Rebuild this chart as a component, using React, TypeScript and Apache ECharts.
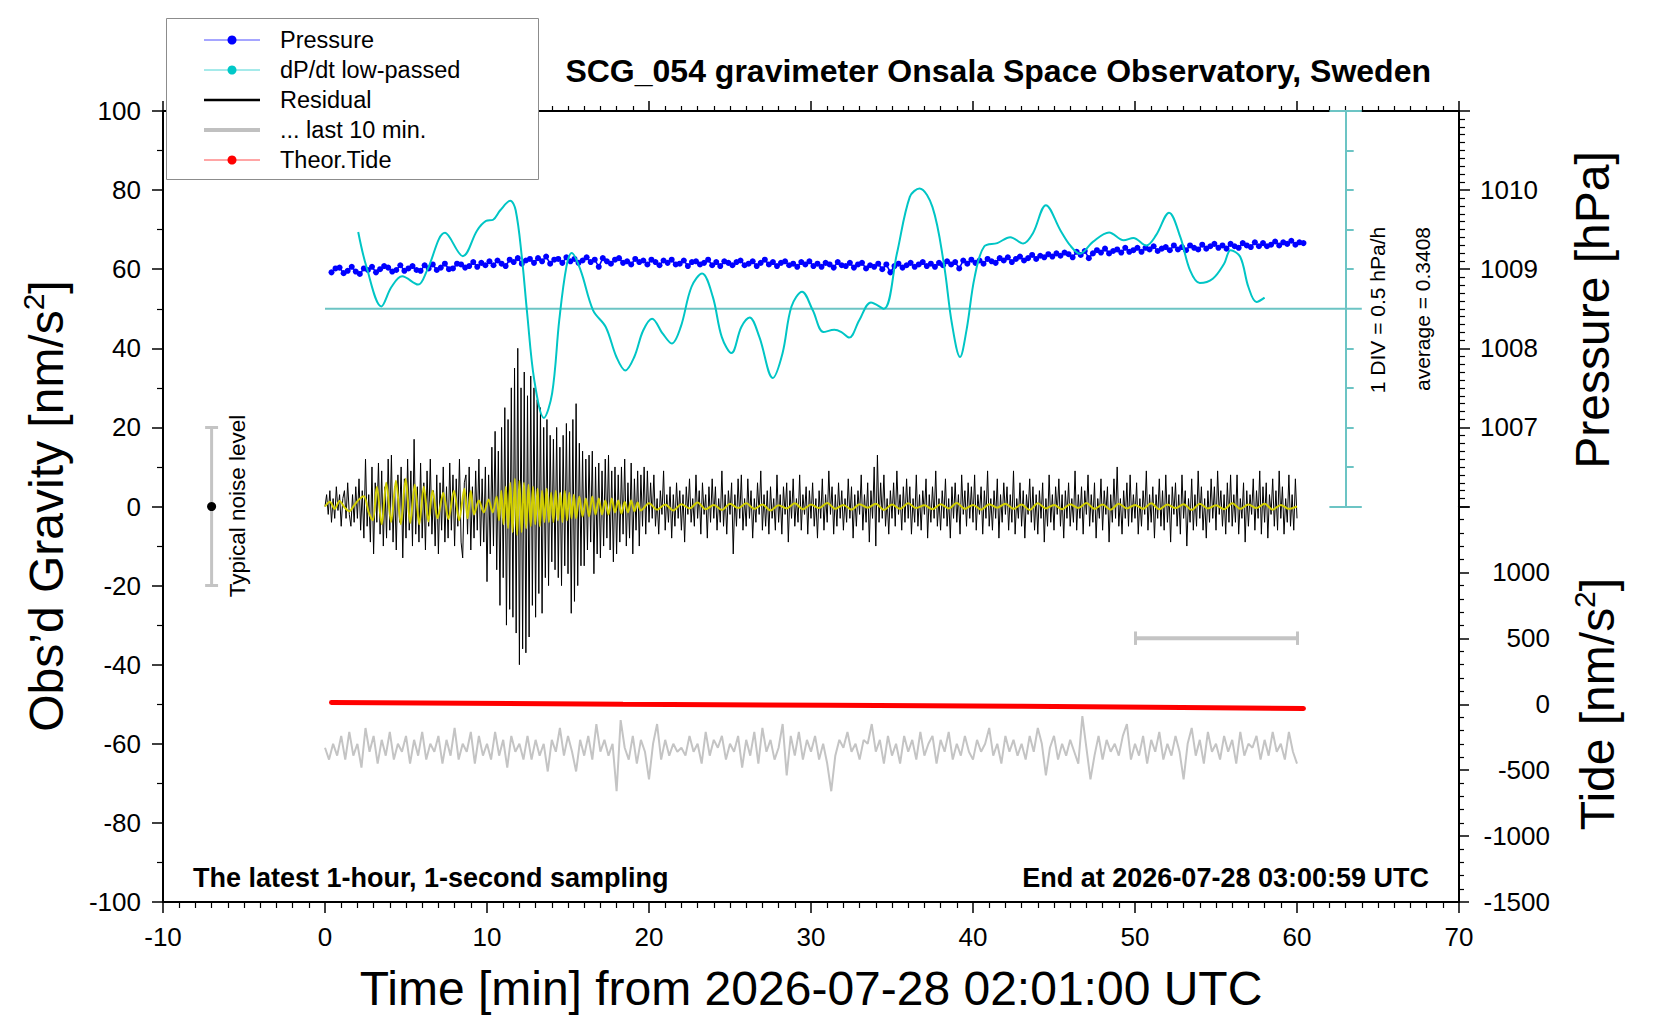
import { useEffect, useRef } from 'react';
import * as echarts from 'echarts';

const FONT = "'Liberation Sans', Arial, Helvetica, sans-serif";

// residual gravity [nm/s^2], one value every 0.1 min from 0 to 60 min
const RESIDUAL_STEP = 0.1;
const residual = [
  0, 3, -2, 4, -4, 2, -3, 5, -1, 3, -5, 2, 4, -3, 6, -2, -5, 3, -4, 5,
  -3, 7, -6, 4, -8, 12, -5, 3, -9, 10, -12, 6, -4, 11, -7, 9, -10, 5, -8, 12,
  -6, 13, -9, 5, -11, 8, -4, 10, -13, 7, -8, 12, -6, 9, -10, 17, -7, 5, -9, 11,
  -8, 6, -11, 9, -5, 12, -7, 4, -10, 8, -12, 6, -6, 10, -9, 5, -8, 11, -6, 8,
  -10, 7, -5, 12, -9, -13, 6, 8, -7, 10, -11, 5, -8, 9, -6, 12, -10, 7, -9, 10,
  -19, 8, -12, 15, -10, 19, -16, 14, -25, 20, -18, 25, -30, 22, -26, 30, -28, 35, -32, 40,
  -40, 30, -36, 34, -37, 28, -33, 33, -25, 30, -28, 27, -22, 25, -27, 20, -18, 22, -20, 18,
  -14, 17, -16, 20, -18, 15, -20, 18, -15, 21, -17, 19, -27, 22, -24, 26, -20, 16, -15, 14,
  -15, 12, -11, 13, -9, 14, -17, 10, -12, 11, -13, 9, -10, 12, -8, 13, -11, 9, -14, 10,
  -12, 8, -9, 10, -7, 12, -10, 6, -8, 11, -12, 7, -6, 9, -10, 8, -5, 10, -7, 9,
  -4, 6, -3, 8, -5, 2, -7, 4, -2, 9, -6, 3, -4, 5, -8, 3, -5, 6, -3, 4,
  -6, 3, -9, 5, -2, 7, -4, 2, -5, 8, -3, 4, -7, 6, -2, 3, -8, 5, -4, 7,
  -3, 5, -6, 2, -4, 9, -5, 3, -7, 4, -2, 6, -12, 3, -5, 7, -3, 8, -6, 2,
  -5, 7, -3, 4, -8, 2, -4, 6, -2, 9, -6, 3, -5, 4, -7, 5, -3, 2, -6, 8,
  -4, 3, -7, 5, -2, 6, -9, 4, -3, 7, -5, 2, -4, 8, -6, 3, -2, 5, -7, 4,
  -3, 6, -5, 2, -8, 4, -3, 7, -6, 3, -4, 9, -2, 5, -7, 3, -5, 6, -3, 4,
  -6, 2, -4, 7, -3, 5, -8, 3, -5, 4, -2, 8, -6, 3, -4, 6, -9, 4, -3, 10,
  -10, 13, -4, 6, -3, 8, -5, 2, -7, 4, -3, 6, -5, 9, -2, 3, -6, 5, -4, 7,
  -3, 5, -7, 2, -4, 8, -5, 3, -6, 4, -2, 7, -8, 3, -4, 5, -3, 9, -5, 2,
  -6, 4, -3, 7, -5, 2, -8, 5, -3, 6, -4, 3, -7, 8, -2, 4, -5, 6, -3, 5,
  -4, 8, -6, 3, -2, 5, -7, 4, -3, 9, -5, 2, -6, 4, -3, 7, -8, 3, -4, 6,
  -2, 5, -6, 3, -4, 9, -7, 2, -3, 6, -5, 4, -8, 3, -2, 7, -4, 5, -6, 3,
  -7, 4, -3, 6, -9, 2, -5, 8, -4, 3, -6, 5, -2, 7, -5, 3, -8, 4, -3, 6,
  -5, 2, -4, 9, -6, 3, -3, 5, -7, 4, -2, 8, -5, 3, -4, 6, -8, 2, -3, 7,
  -6, 4, -2, 5, -9, 3, -4, 7, -3, 10, -5, 2, -7, 4, -3, 6, -5, 8, -4, 3,
  -3, 6, -7, 2, -5, 4, -2, 9, -6, 3, -4, 5, -8, 3, -3, 7, -5, 4, -6, 8,
  -4, 3, -9, 5, -2, 6, -5, 3, -7, 8, -3, 4, -10, 2, -4, 7, -6, 3, -5, 9,
  -3, 5, -6, 2, -8, 4, -4, 7, -3, 5, -6, 9, -2, 4, -5, 3, -7, 6, -4, 8,
  -5, 3, -4, 8, -7, 2, -3, 6, -9, 4, -5, 3, -2, 7, -6, 4, -3, 9, -7, 5,
  -4, 6, -8, 3, -2, 7, -5, 4, -6, 9, -3, 5, -7, 2, -4, 8, -5, 3, -6, 7,
  -3,
];

// low-passed residual (yellow), [min, nm/s^2]
const smoothed: [number, number][] = [
  [0, 0], [0.3, 1.2], [0.6, -0.6], [0.9, 1.4], [1.2, -0.2], [1.5, -1.2], [1.8, 0.3], [2.1, 1.8],
  [2.4, 2.6], [2.7, -1.5], [2.95, -3.5], [3.2, 5], [3.5, -4.5], [3.78, 6], [4.08, -4], [4.38, 6.5],
  [4.68, -4.5], [4.98, 7], [5.26, -4.2], [5.54, 5.5], [5.82, -4.5], [6.1, 5], [6.38, -3.8], [6.64, 4],
  [6.95, -3], [7.3, 3.5], [7.62, -3.2], [7.96, 4], [8.28, -3.5], [8.6, 4.5], [8.8, -3], [9.0, 4],
  [9.2, -2], [9.5, 1.5], [9.8, -1.5], [10.1, 1.8], [10.35, -1.5], [10.6, 2.5], [10.74, -3.5], [10.88, 4],
  [11.02, -4.5], [11.16, 5], [11.3, -5.5], [11.44, 6], [11.58, -6.5], [11.72, 7], [11.86, -7.2], [12.0, 6.5],
  [12.14, -6.5], [12.28, 6], [12.42, -5.5], [12.56, 5.5], [12.7, -5], [12.84, 5], [12.98, -4.5], [13.12, 4.5],
  [13.26, -5], [13.4, 4], [13.54, -4], [13.68, 4.5], [13.82, -4], [13.96, 3.5], [14.1, -4], [14.24, 4],
  [14.38, -3.5], [14.52, 3.5], [14.66, -4], [14.8, 4], [14.94, -3.5], [15.08, 3.5], [15.22, -3], [15.36, 3],
  [15.5, -3], [15.7, 2.5], [15.9, -2.5], [16.1, 2], [16.3, -2.5], [16.5, 2.5], [16.7, -2], [16.9, 2],
  [17.1, -2], [17.3, 1.5], [17.5, -2], [17.7, 2], [17.9, -1.5], [18.1, 1.5], [18.3, -1.8], [18.5, 1.2],
  [18.7, -1.5], [18.9, 1.5], [19.1, -1.2], [19.3, 1], [19.5, -1], [20, 0.8], [20.5, -0.8], [21, 0.5],
  [21.5, -1], [22, 0.6], [22.5, -0.5], [23, 1], [23.5, -0.7], [24, 0.4], [24.5, -0.9], [25, 0.7],
  [25.5, -0.4], [26, 0.8], [26.5, -0.6], [27, 0.5], [27.5, -1], [28, 0.3], [28.5, -0.5], [29, 0.8],
  [29.5, -0.7], [30, 0.5], [30.5, -0.4], [31, 0.9], [31.5, -0.6], [32, 0.4], [32.5, -0.8], [33, 0.6],
  [33.5, -0.3], [34, 0.7], [34.5, -0.9], [35, 0.5], [35.5, -0.6], [36, 0.8], [36.5, -0.4], [37, 0.3],
  [37.5, -0.7], [38, 0.6], [38.5, -0.5], [39, 0.9], [39.5, -0.6], [40, 0.4], [40.5, -0.8], [41, 0.6],
  [41.5, -0.3], [42, 0.7], [42.5, -0.6], [43, 0.5], [43.5, -0.9], [44, 0.8], [44.5, -0.5], [45, 0.4],
  [45.5, -0.7], [46, 0.6], [46.5, -0.4], [47, 0.9], [47.5, -0.6], [48, 0.5], [48.5, -0.8], [49, 0.7],
  [49.5, -0.5], [50, 0.4], [50.5, -0.6], [51, 0.8], [51.5, -0.7], [52, 0.5], [52.5, -0.4], [53, 0.6],
  [53.5, -0.9], [54, 0.7], [54.5, -0.5], [55, 0.3], [55.5, -0.7], [56, 0.8], [56.5, -0.6], [57, 0.5],
  [57.5, -0.4], [58, 0.7], [58.5, -0.8], [59, 0.4], [59.5, -0.6], [60, 0],
];

// air pressure [hPa], one value every 0.25 min from 0.4 min
const PRESSURE_START = 0.4;
const PRESSURE_STEP = 0.25;
const pressure = [
  1008.96, 1009.01, 1009.02, 1008.95, 1008.98, 1009.03, 1008.97, 1008.94, 1009.01, 1008.99,
  1009.03, 1008.96, 1009.00, 1009.04, 1009.02, 1008.97, 1008.99, 1009.05, 1008.98, 1009.01,
  1009.04, 1008.99, 1008.98, 1009.05, 1009.01, 1009.06, 1008.99, 1009.02, 1009.07, 1009.00,
  1009.01, 1009.07, 1009.06, 1009.02, 1009.04, 1009.09, 1009.03, 1009.08, 1009.05, 1009.10,
  1009.05, 1009.11, 1009.07, 1009.04, 1009.12, 1009.09, 1009.14, 1009.07, 1009.11, 1009.13,
  1009.08, 1009.14, 1009.10, 1009.16, 1009.07, 1009.12, 1009.13, 1009.08, 1009.15, 1009.10,
  1009.13, 1009.08, 1009.11, 1009.15, 1009.09, 1009.12, 1009.03, 1009.14, 1009.10, 1009.07,
  1009.12, 1009.14, 1009.08, 1009.10, 1009.06, 1009.13, 1009.09, 1009.11, 1009.06, 1009.12,
  1009.09, 1009.05, 1009.11, 1009.08, 1009.12, 1009.06, 1009.07, 1009.11, 1009.04, 1009.09,
  1009.10, 1009.06, 1009.08, 1009.12, 1009.05, 1009.09, 1009.04, 1009.10, 1009.08, 1009.05,
  1009.09, 1009.11, 1009.05, 1009.07, 1009.10, 1009.04, 1009.08, 1009.12, 1009.06, 1009.09,
  1009.04, 1009.08, 1009.10, 1009.05, 1009.07, 1009.03, 1009.09, 1009.06, 1009.10, 1009.04,
  1009.07, 1009.03, 1009.08, 1009.06, 1009.02, 1009.09, 1009.05, 1009.04, 1009.08, 1009.02,
  1009.06, 1009.08, 1009.01, 1009.05, 1009.03, 1009.07, 1009.00, 1009.06, 1008.96, 1009.04,
  1009.07, 1009.02, 1009.05, 1009.08, 1009.03, 1009.06, 1009.09, 1009.04, 1009.07, 1009.03,
  1009.08, 1009.05, 1009.10, 1009.06, 1009.09, 1009.01, 1009.11, 1009.07, 1009.12, 1009.08,
  1009.11, 1009.07, 1009.13, 1009.10, 1009.08, 1009.14, 1009.11, 1009.15, 1009.09, 1009.13,
  1009.16, 1009.11, 1009.14, 1009.18, 1009.13, 1009.17, 1009.15, 1009.19, 1009.16, 1009.20,
  1009.17, 1009.21, 1009.19, 1009.15, 1009.22, 1009.18, 1009.23, 1009.14, 1009.20, 1009.24,
  1009.21, 1009.26, 1009.20, 1009.23, 1009.25, 1009.21, 1009.27, 1009.22, 1009.24, 1009.27,
  1009.22, 1009.27, 1009.25, 1009.29, 1009.23, 1009.26, 1009.28, 1009.24, 1009.30, 1009.25,
  1009.28, 1009.24, 1009.30, 1009.27, 1009.25, 1009.31, 1009.26, 1009.29, 1009.32, 1009.27,
  1009.30, 1009.26, 1009.32, 1009.29, 1009.27, 1009.33, 1009.30, 1009.28, 1009.34, 1009.29,
  1009.33, 1009.29, 1009.31, 1009.35, 1009.30, 1009.34, 1009.32, 1009.36, 1009.31, 1009.34,
  1009.33,
];

// dP/dt low-passed, drawn in gravity-axis units (1 DIV = 10 units = 0.5 hPa/h, baseline at 50)
const dpdtTimes = [
  2.05, 2.56, 3.48, 4.1, 4.76, 5.75, 6.3, 7.41, 8.51, 9.39, 9.94, 10.38, 10.82, 11.44, 11.77,
  12.15, 12.48, 12.92, 13.51, 14.02, 14.46, 14.9, 15.23, 15.78, 16.55, 17.33, 17.99, 18.54,
  19.09, 19.64, 20.19, 20.85, 21.41, 21.96, 22.62, 23.28, 23.94, 24.49, 25.09, 25.7, 26.21,
  26.81, 27.64, 28.24, 28.79, 29.45, 30.11, 30.77, 31.44, 31.88, 32.36, 32.98, 33.7, 34.5,
  35.3, 36.1, 36.7, 37.5, 38.2, 38.7, 39.2, 39.6, 40.1, 40.7, 41.5, 42.3, 43.1, 43.7, 44.5,
  45.4, 46.0, 46.6, 47.4, 48.4, 49.3, 49.9, 50.7, 51.3, 52.1, 52.8, 53.4, 54.0, 54.8, 55.5,
  55.9, 56.5, 57.0, 57.5, 58.0,
];
const dpdtValues = [
  69.4, 60.6, 50.6, 55.5, 58.2, 56.1, 59.7, 69.2, 63.3, 69.8, 72.2, 72.5, 74.9, 77.3, 74.9,
  63.1, 48.8, 31.9, 22.4, 28.6, 47.1, 60.6, 64.1, 59.7, 49.6, 45.4, 37.8, 34.4,
  37.8, 44.5, 47.5, 43.7, 41.2, 45.4, 55.5, 58.9, 53, 42.9, 38.8, 45.4, 47.8,
  42.9, 32.5, 38.7, 50.5, 54.3, 49.6, 44.1, 44.7, 44.1, 42.7, 47.1, 51.6, 50.0,
  63.9, 78.3, 80.4, 75.7, 61.4, 46.2, 37.8, 44.6, 58, 65.8, 66.6, 68.1, 66.5, 69.1, 76.2,
  69.8, 66, 63.9, 66.9, 69.3, 67.3, 67.9, 66, 68.6, 74.3, 68.1, 59.7, 56.5, 57.6, 61.4,
  64.8, 63.1, 55.5, 51.7, 52.8,
];

// last 10 min of residual, stretched over the 60-min width, every 0.25 min (plot units)
const LAST_TEN_STEP = 0.25;
const lastTen = [
  -61, -64, -60, -63, -58, -64, -57, -63, -60, -66,
  -56, -62, -58, -65, -59, -63, -57, -64, -60, -62,
  -58, -65, -59, -63, -57, -64, -60, -62, -58, -65,
  -59, -63, -56, -64, -60, -62, -57, -65, -58, -63,
  -60, -64, -57, -63, -59, -66, -58, -62, -60, -64,
  -58, -64, -59, -63, -60, -67, -59, -62, -56, -63,
  -58, -62, -67, -59, -63, -58, -64, -55, -62, -59,
  -63, -60, -72, -54, -61, -64, -58, -65, -59, -62,
  -69, -60, -55, -64, -59, -63, -60, -62, -61, -63,
  -58, -62, -60, -65, -57, -63, -59, -61, -58, -64,
  -60, -62, -58, -66, -59, -63, -57, -65, -56, -62,
  -59, -64, -61, -55, -68, -58, -63, -57, -64, -59,
  -62, -58, -64, -60, -65, -72, -63, -59, -61, -57,
  -62, -60, -64, -59, -60, -55, -62, -59, -65, -58,
  -63, -60, -65, -58, -62, -59, -64, -57, -63, -60,
  -58, -65, -59, -62, -57, -64, -60, -63, -58, -62,
  -64, -59, -62, -60, -56, -63, -60, -65, -58, -62,
  -59, -63, -60, -64, -58, -62, -56, -60, -68, -61,
  -58, -64, -60, -63, -59, -62, -65, -53, -61, -69,
  -63, -58, -64, -59, -62, -60, -63, -58, -55, -64,
  -60, -63, -58, -65, -59, -62, -57, -64, -60, -63,
  -58, -62, -69, -60, -56, -63, -59, -65, -57, -62,
  -60, -64, -58, -62, -59, -65, -57, -63, -60, -61,
  -58, -64, -59, -63, -57, -62, -60, -64, -57, -62,
  -65,
];

// theoretical tide [nm/s^2]
const tideTimes = [0.4, 18.4, 31.2, 43, 51, 60.4];
const tideValues = [13, 0, -8, -15, -23, -32];

const NOISE_X = -7;
const NOISE_LEVEL = 20;
const LAST_TEN_BAR = { from: 50, to: 60, level: -33.3 };
const DPDT_SCALE_X = 63;
const DPDT_BASE = 50;

const legendItems = [
  { name: 'Pressure', color: '#0000ff', line: '#4d4dff', width: 1, dot: true },
  { name: 'dP/dt low-passed', color: '#00c8c8', line: '#4dd5d5', width: 1, dot: true },
  { name: 'Residual', color: '#000000', line: '#000000', width: 2.5, dot: false },
  { name: '... last 10 min.', color: '#c0c0c0', line: '#c0c0c0', width: 4, dot: false },
  { name: 'Theor.Tide', color: '#ff0000', line: '#ff4d4d', width: 1, dot: true },
];

const GRID_LEFT = 163;
const GRID_TOP = 111;
const GRID_W = 1296;
const GRID_H = 791;

const seg = (x1: number, y1: number, x2: number, y2: number) => [
  { coord: [x1, y1] },
  { coord: [x2, y2] },
];

export default function App() {
  const chartRef = useRef<HTMLDivElement>(null);

  useEffect(() => {
    if (!chartRef.current) return;
    const chart = echarts.init(chartRef.current, undefined, { renderer: 'svg' });

    const axisLine = { show: true, onZero: false, lineStyle: { color: '#000', width: 2 } };
    const axisTick = (len: number) => ({ show: true, length: len, lineStyle: { color: '#000', width: 1.5 } });
    const minorTick = (n: number, len: number) => ({
      show: true,
      splitNumber: n,
      length: len,
      lineStyle: { color: '#000', width: 1.2 },
    });
    const tickLabel = { color: '#000', fontSize: 26, fontFamily: FONT };

    const halfH = GRID_H / 2;

    // cyan dP/dt scale: ticks every division, long ends at 0 and 100
    const dpdtTicks: any[] = [];
    for (let g = 10; g < 100; g += 10) {
      if (g !== DPDT_BASE) dpdtTicks.push(seg(DPDT_SCALE_X, g, DPDT_SCALE_X + 0.5, g));
    }
    dpdtTicks.push(seg(DPDT_SCALE_X - 1, 0, DPDT_SCALE_X + 1, 0));
    dpdtTicks.push(seg(DPDT_SCALE_X - 1, 100, DPDT_SCALE_X + 1, 100));
    dpdtTicks.push(seg(DPDT_SCALE_X, 0, DPDT_SCALE_X, 100));

    const markStyle = (color: string, width: number) => ({
      silent: true,
      symbol: ['none', 'none'],
      label: { show: false },
      emphasis: { disabled: true },
      lineStyle: { color, width, type: 'solid' as const },
    });

    const titleRich = (text: string) => ({
      text,
      rich: {
        a: { fontSize: 48, fontFamily: FONT, fill: '#000', lineHeight: 56 },
        s: { fontSize: 30, fontFamily: FONT, fill: '#000', lineHeight: 30, verticalAlign: 'top' },
      },
      fill: '#000',
      align: 'center',
      verticalAlign: 'middle',
      textAlign: 'center',
      textVerticalAlign: 'middle',
    });

    const plainText = (text: string, size: number, align: string, weight: string = 'normal') => ({
      text,
      fontSize: size,
      fontFamily: FONT,
      fontWeight: weight,
      fill: '#000',
      align,
      verticalAlign: 'middle',
      textAlign: align,
      textVerticalAlign: 'middle',
    });

    const legendGraphics: any[] = [
      {
        type: 'rect',
        shape: { x: 166.5, y: 18.5, width: 372, height: 161 },
        style: { fill: '#fff', stroke: '#8c8c8c', lineWidth: 1 },
        z: 100,
      },
    ];
    legendItems.forEach((item, i) => {
      const y = 40 + i * 30;
      legendGraphics.push({
        type: 'line',
        shape: { x1: 204, y1: y, x2: 260, y2: y },
        style: { stroke: item.line, lineWidth: item.width },
        z: 101,
      });
      if (item.dot) {
        legendGraphics.push({
          type: 'circle',
          shape: { cx: 232, cy: y, r: 4.5 },
          style: { fill: item.color },
          z: 102,
        });
      }
      legendGraphics.push({
        type: 'text',
        x: 280,
        y,
        style: plainText(item.name, 23.5, 'left'),
        z: 102,
      });
    });

    const option: any = {
      animation: false,
      backgroundColor: '#fff',
      grid: [
        { left: GRID_LEFT, top: GRID_TOP, width: GRID_W, height: GRID_H },
        { left: GRID_LEFT, top: GRID_TOP, width: GRID_W, height: halfH },
        { left: GRID_LEFT, top: GRID_TOP + halfH, width: GRID_W, height: halfH },
      ],
      xAxis: [
        {
          type: 'value',
          gridIndex: 0,
          position: 'bottom',
          min: -10,
          max: 70,
          interval: 10,
          axisLine,
          axisTick: axisTick(11),
          minorTick: minorTick(10, 6),
          axisLabel: { ...tickLabel, margin: 22 },
          splitLine: { show: false },
        },
        {
          type: 'value',
          gridIndex: 0,
          position: 'top',
          min: -10,
          max: 70,
          interval: 10,
          axisLine,
          axisTick: axisTick(10),
          minorTick: minorTick(10, 5),
          axisLabel: { show: false },
          splitLine: { show: false },
        },
        { type: 'value', gridIndex: 1, min: -10, max: 70, show: false, splitLine: { show: false } },
        { type: 'value', gridIndex: 2, min: -10, max: 70, show: false, splitLine: { show: false } },
      ],
      yAxis: [
        {
          type: 'value',
          gridIndex: 0,
          position: 'left',
          min: -100,
          max: 100,
          interval: 20,
          axisLine,
          axisTick: axisTick(11),
          minorTick: minorTick(2, 6),
          axisLabel: { ...tickLabel, margin: 22 },
          splitLine: { show: false },
        },
        {
          type: 'value',
          gridIndex: 1,
          position: 'right',
          min: 1006,
          max: 1011,
          interval: 1,
          axisLine,
          axisTick: axisTick(11),
          minorTick: minorTick(10, 6),
          axisLabel: {
            ...tickLabel,
            margin: 21,
            formatter: (v: number) => (v >= 1007 && v <= 1010 ? String(v) : ''),
          },
          splitLine: { show: false },
        },
        {
          type: 'value',
          gridIndex: 2,
          position: 'right',
          min: -1500,
          max: 1500,
          interval: 500,
          axisLine,
          axisTick: axisTick(10),
          minorTick: minorTick(5, 5),
          axisLabel: {
            ...tickLabel,
            margin: 91,
            align: 'right',
            formatter: (v: number) => (v <= 1000 ? String(v) : ''),
          },
          splitLine: { show: false },
        },
      ],
      series: [
        {
          name: 'noise level',
          type: 'line',
          xAxisIndex: 0,
          yAxisIndex: 0,
          data: [[NOISE_X, -NOISE_LEVEL], [NOISE_X, NOISE_LEVEL]],
          symbol: 'none',
          silent: true,
          lineStyle: { color: '#c4c4c4', width: 3 },
          markLine: {
            ...markStyle('#c4c4c4', 3),
            data: [
              seg(NOISE_X - 0.4, NOISE_LEVEL, NOISE_X + 0.4, NOISE_LEVEL),
              seg(NOISE_X - 0.4, -NOISE_LEVEL, NOISE_X + 0.4, -NOISE_LEVEL),
            ],
          },
          z: 3,
        },
        {
          name: 'noise centre',
          type: 'scatter',
          xAxisIndex: 0,
          yAxisIndex: 0,
          data: [[NOISE_X, 0]],
          symbolSize: 9,
          itemStyle: { color: '#000', opacity: 1 },
          silent: true,
          z: 4,
        },
        {
          name: 'Residual',
          type: 'line',
          xAxisIndex: 0,
          yAxisIndex: 0,
          data: residual.map((v, i) => [i * RESIDUAL_STEP, v]),
          symbol: 'none',
          lineStyle: { color: '#000', width: 1 },
          silent: true,
          z: 5,
        },
        {
          name: 'Residual low-passed',
          type: 'line',
          xAxisIndex: 0,
          yAxisIndex: 0,
          data: smoothed,
          symbol: 'none',
          smooth: 0.3,
          lineStyle: { color: '#d2cf00', width: 2 },
          silent: true,
          z: 6,
        },
        {
          name: 'dP/dt scale',
          type: 'line',
          xAxisIndex: 0,
          yAxisIndex: 0,
          data: [[0, DPDT_BASE], [DPDT_SCALE_X + 1, DPDT_BASE]],
          symbol: 'none',
          lineStyle: { color: '#6cc4c4', width: 2 },
          silent: true,
          markLine: { ...markStyle('#6cc4c4', 2), data: dpdtTicks },
          z: 4,
        },
        {
          name: 'Pressure',
          type: 'line',
          xAxisIndex: 2,
          yAxisIndex: 1,
          data: pressure.map((v, i) => [PRESSURE_START + i * PRESSURE_STEP, v]),
          symbol: 'circle',
          symbolSize: 6,
          showSymbol: true,
          showAllSymbol: true,
          itemStyle: { color: '#0000ff', borderWidth: 0 },
          lineStyle: { color: '#0000ff', width: 1.6 },
          silent: true,
          z: 7,
        },
        {
          name: 'dP/dt low-passed',
          type: 'line',
          xAxisIndex: 0,
          yAxisIndex: 0,
          data: dpdtTimes.map((t, i) => [t, dpdtValues[i]]),
          symbol: 'none',
          smooth: 0.35,
          lineStyle: { color: '#00c5c5', width: 2 },
          silent: true,
          z: 8,
        },
        {
          name: '... last 10 min.',
          type: 'line',
          xAxisIndex: 0,
          yAxisIndex: 0,
          data: lastTen.map((v, i) => [i * LAST_TEN_STEP, v]),
          symbol: 'none',
          lineStyle: { color: '#c4c4c4', width: 2 },
          silent: true,
          z: 5,
        },
        {
          name: 'last 10 min bar',
          type: 'line',
          xAxisIndex: 0,
          yAxisIndex: 0,
          data: [[LAST_TEN_BAR.from, LAST_TEN_BAR.level], [LAST_TEN_BAR.to, LAST_TEN_BAR.level]],
          symbol: 'none',
          lineStyle: { color: '#c4c4c4', width: 4 },
          silent: true,
          markLine: {
            ...markStyle('#c4c4c4', 3),
            data: [
              seg(LAST_TEN_BAR.from, LAST_TEN_BAR.level - 1.7, LAST_TEN_BAR.from, LAST_TEN_BAR.level + 1.7),
              seg(LAST_TEN_BAR.to, LAST_TEN_BAR.level - 1.7, LAST_TEN_BAR.to, LAST_TEN_BAR.level + 1.7),
            ],
          },
          z: 5,
        },
        {
          name: 'Theor.Tide',
          type: 'line',
          xAxisIndex: 3,
          yAxisIndex: 2,
          data: tideTimes.map((t, i) => [t, tideValues[i]]),
          symbol: 'none',
          lineStyle: { color: '#ff0000', width: 5, cap: 'round' },
          silent: true,
          z: 6,
        },
      ],
      graphic: [
        ...legendGraphics,
        {
          type: 'text',
          x: 1431,
          y: 71,
          style: plainText('SCG_054 gravimeter Onsala Space Observatory, Sweden', 32, 'right', 'bold'),
          z: 50,
        },
        {
          type: 'text',
          x: 193,
          y: 878,
          style: plainText('The latest 1-hour, 1-second sampling', 27, 'left', 'bold'),
          z: 50,
        },
        {
          type: 'text',
          x: 1429,
          y: 878,
          style: plainText('End at 2026-07-28 03:00:59 UTC', 27, 'right', 'bold'),
          z: 50,
        },
        {
          type: 'text',
          x: 811,
          y: 988,
          style: plainText('Time [min] from 2026-07-28 02:01:00 UTC', 48, 'center'),
          z: 50,
        },
        {
          type: 'text',
          x: 46,
          y: 506,
          rotation: Math.PI / 2,
          style: titleRich('{a|Obs’d Gravity [nm/s}{s|2}{a|]}'),
          z: 50,
        },
        {
          type: 'text',
          x: 1592,
          y: 310,
          rotation: Math.PI / 2,
          style: titleRich('{a|Pressure [hPa]}'),
          z: 50,
        },
        {
          type: 'text',
          x: 1597,
          y: 704,
          rotation: Math.PI / 2,
          style: titleRich('{a|Tide [nm/s}{s|2}{a|]}'),
          z: 50,
        },
        {
          type: 'text',
          x: 237,
          y: 506,
          rotation: Math.PI / 2,
          style: plainText('Typical noise level', 22.5, 'center'),
          z: 50,
        },
        {
          type: 'text',
          x: 1377,
          y: 310,
          rotation: Math.PI / 2,
          style: plainText('1 DIV = 0.5 hPa/h', 21, 'center'),
          z: 50,
        },
        {
          type: 'text',
          x: 1422,
          y: 309,
          rotation: Math.PI / 2,
          style: plainText('average = 0.3408', 21, 'center'),
          z: 50,
        },
      ],
    };

    chart.setOption(option);

    return () => {
      chart.dispose();
    };
  }, []);

  return (
    <div
      ref={chartRef}
      style={{ position: 'fixed', left: 0, top: 0, width: 1660, height: 1020, background: '#fff' }}
    />
  );
}
